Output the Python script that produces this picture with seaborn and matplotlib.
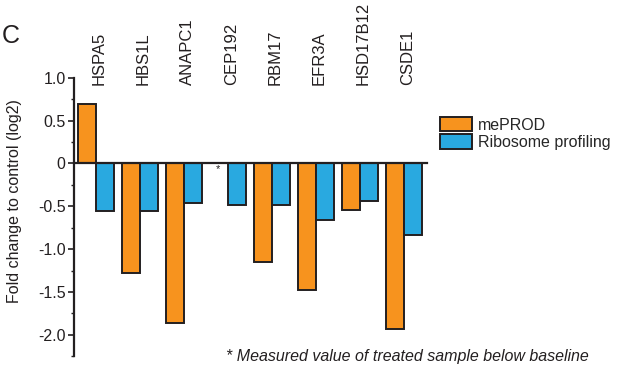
import numpy as np
import pandas as pd
import matplotlib
matplotlib.use("Agg")
import matplotlib.pyplot as plt
import seaborn as sns

# Log2 fold change per gene for the two methods
genes = ["HSPA5", "HBS1L", "ANAPC1", "CEP192", "RBM17", "EFR3A", "HSD17B12", "CSDE1"]
meprod = [0.69, -1.28, -1.86, np.nan, -1.15, -1.48, -0.54, -1.93]
ribo = [-0.55, -0.55, -0.46, -0.48, -0.49, -0.66, -0.44, -0.83]
methods = ["mePROD", "Ribosome profiling"]
colors = ["#F7931E", "#29A9E0"]

# Y ticks and their printed labels
ytick_values = [1.0, 0.5, 0.0, -0.5, -1.0, -1.5, -2.0]
ytick_labels = ["1.0", "0.5", "0", "-0.5", "-1.0", "-1.5", "-2.0"]
ylabel = "Fold change to control (log2)"
footnote = "* Measured value of treated sample below baseline"
starred_gene = "CEP192"

sns.set_theme(style="ticks")
plt.rcParams["font.family"] = ["Liberation Sans", "DejaVu Sans"]
plt.rcParams["axes.unicode_minus"] = False

df = pd.DataFrame({
    "gene": genes * 2,
    "value": meprod + ribo,
    "method": [methods[0]] * len(genes) + [methods[1]] * len(genes),
})

fig = plt.figure(figsize=(6.18, 3.76), dpi=100)
ax = fig.add_axes([74 / 618, 1 - 358 / 376, 353 / 618, 282 / 376])

edge = "#231F20"
sns.barplot(data=df, x="gene", y="value", hue="method", order=genes,
            hue_order=methods, palette=colors, saturation=1, width=0.82,
            edgecolor=edge, linewidth=1.4, errorbar=None, ax=ax, zorder=2)

ax.set_xlim(-0.5, 7.52)
ax.set_ylim(-2.27, 1.02)

# Axis styling: left spine with outward ticks, bottom spine at zero
for side in ["top", "right"]:
    ax.spines[side].set_visible(False)
ax.spines["left"].set_bounds(-2.25, 1.0)
ax.spines["left"].set_linewidth(1.6)
ax.spines["left"].set_color(edge)
ax.spines["bottom"].set_position(("data", 0))
ax.spines["bottom"].set_linewidth(1.6)
ax.spines["bottom"].set_color(edge)
ax.spines["bottom"].set_zorder(3)

fs = 11.5
ax.set_yticks(ytick_values)
ax.set_yticklabels(ytick_labels)
ax.set_yticks(np.arange(-2.25, 1.01, 0.25), minor=True)
ax.tick_params(axis="y", which="major", length=4.5, width=1.2, pad=1.5,
               labelsize=fs, color=edge, labelcolor="#231F20")
ax.tick_params(axis="y", which="minor", length=2, width=1.0, color=edge)
ax.tick_params(axis="x", bottom=False, labelbottom=False)
ax.set_xlabel("")
ax.set_ylabel(ylabel, fontsize=fs, color="#231F20")
ax.yaxis.set_label_coords(-0.148, 0.557)

# Gene names above each group
for i, g in enumerate(genes):
    ax.text(i + 0.07, 0.91, g, rotation=90, ha="center", va="bottom",
            fontsize=12, color="#231F20")

# Asterisk where the treated value fell below baseline
si = genes.index(starred_gene)
ax.text(si - 0.22, -0.07, "*", ha="center", va="center", fontsize=8,
        color="#231F20")

handles, labels = ax.get_legend_handles_labels()
ax.legend(handles, labels, loc="upper left",
          bbox_to_anchor=(440 / 618, 1 - 117 / 376),
          bbox_transform=fig.transFigure, frameon=False, fontsize=fs,
          handlelength=2.0, handleheight=1.0, handletextpad=0.4,
          labelspacing=0.1, borderpad=0, borderaxespad=0)

fig.text(589 / 618, 1 - 357 / 376, footnote, ha="right", va="center",
         fontsize=fs, style="italic", color="#231F20")
fig.text(0.003, 1 - 43 / 376, "C", ha="left", va="baseline", fontsize=18,
         color="#231F20")

fig.savefig("out.png", dpi=100)
